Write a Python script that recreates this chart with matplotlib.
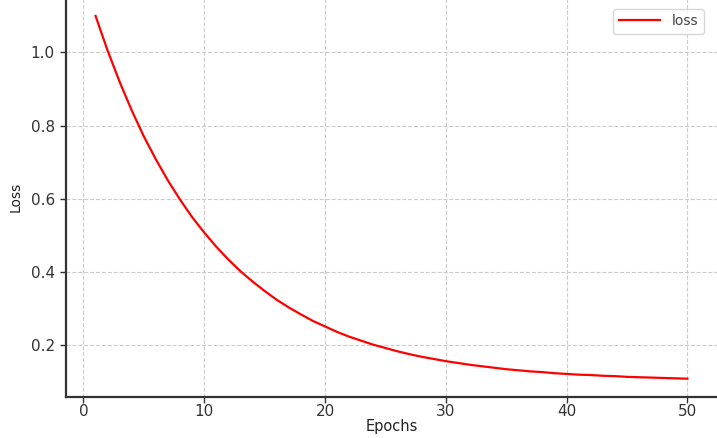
import matplotlib
matplotlib.use("Agg")
import matplotlib.pyplot as plt

# значения потерь (эпохи 1..50)
epochs = list(range(1, 51))
loss = [1.100, 1.005, 0.919, 0.841, 0.770, 0.707, 0.649, 0.597, 0.549, 0.507,
        0.468, 0.433, 0.401, 0.373, 0.347, 0.323, 0.302, 0.283, 0.265, 0.250,
        0.235, 0.222, 0.211, 0.200, 0.191, 0.182, 0.174, 0.167, 0.161, 0.155,
        0.150, 0.145, 0.141, 0.137, 0.133, 0.130, 0.127, 0.125, 0.122, 0.120,
        0.118, 0.117, 0.115, 0.114, 0.112, 0.111, 0.110, 0.109, 0.108, 0.107]

fig = plt.figure(figsize=(7.17, 4.38), dpi=100)
ax = fig.add_axes([0.092, 0.094, 0.908, 0.911])

ax.plot(epochs, loss, color="#ff0000", linewidth=1.6, label="loss")

ax.set_xticks([0, 10, 20, 30, 40, 50])
ax.set_yticks([0.2, 0.4, 0.6, 0.8, 1.0])
ax.set_xlabel("Epochs", fontsize=10.5, color="#222222", labelpad=0)
ax.set_ylabel("Loss", fontsize=10, color="#222222", labelpad=6)

ax.grid(True, linestyle="--", color="#cccccc", linewidth=0.8)
ax.set_axisbelow(True)

for side in ["top", "right"]:
    ax.spines[side].set_visible(False)
for side in ["left", "bottom"]:
    ax.spines[side].set_color("#333333")
    ax.spines[side].set_linewidth(1.6)

ax.tick_params(axis="both", labelsize=11, colors="#333333", length=4, width=1)
ax.tick_params(axis="x", pad=1.5)
ax.tick_params(axis="y", pad=4)

leg = ax.legend(loc="upper right", fontsize=10, frameon=True, fancybox=True,
                handlelength=3.0, borderpad=0.4, bbox_to_anchor=(0.99, 0.99))
leg.get_frame().set_edgecolor("#cccccc")
for t in leg.get_texts():
    t.set_color("#444444")

fig.savefig("out.png", dpi=100)
